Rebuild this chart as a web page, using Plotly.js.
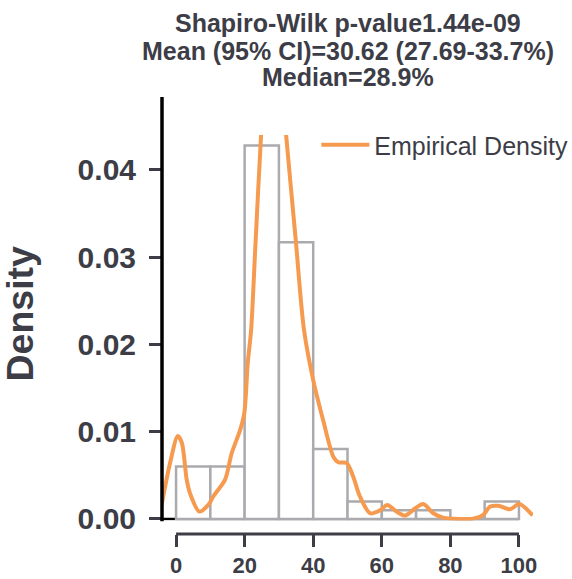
<!DOCTYPE html>
<html>
<head>
<meta charset="utf-8">
<script src="https://cdn.plot.ly/plotly-3.0.1.min.js"></script>
<style>html,body{margin:0;padding:0;background:#fff;}#chart{width:572px;height:579px;}</style>
</head>
<body>
<div id="chart"></div>
<script>
// Histogram (density) bins
const binCenters = [5, 15, 25, 35, 45, 55, 65, 75, 85, 95];
const binDensity = [0.0060, 0.0060, 0.0428, 0.0317, 0.0080, 0.0020, 0.0010, 0.0010, 0.0, 0.0020];
const binWidth = 10;

// Empirical density curve (KDE)
const kdeX = [-4.2, -1.75, 0.5, 1.7, 3.1, 4.1, 6.8, 9.4, 10.9, 14.3, 16.2, 18.7, 19.9, 20.9, 21.9, 23.1, 24.8, 26.3, 28.2, 30.2, 32.1, 34.9, 37.3, 40.0, 42.9, 45.9, 47.3, 49.8, 51.7, 53.6, 56.6, 59.5, 61.6, 64.3, 66.8, 69.7, 72.1, 75.0, 77.9, 82.8, 86.7, 89.6, 91.5, 94.0, 97.4, 100.1, 104.0];
const kdeY = [0.0016, 0.0064, 0.0095, 0.0087, 0.0045, 0.0029, 0.00084, 0.0016, 0.0026, 0.0045, 0.0075, 0.0102, 0.0121, 0.0178, 0.0217, 0.0310, 0.0440, 0.0530, 0.0580, 0.0530, 0.0440, 0.0320, 0.0217, 0.0159, 0.0113, 0.0071, 0.0065, 0.0064, 0.0048, 0.0026, 0.00065, 0.0010, 0.0016, 0.00084, 0.00038, 0.0012, 0.0017, 0.00065, 0.00015, 0.0, 0.00003, 0.00046, 0.0014, 0.0015, 0.0011, 0.0017, 0.0004];

const titleLines = ["Shapiro-Wilk p-value1.44e-09", "Mean (95% CI)=30.62 (27.69-33.7%)", "Median=28.9%"];
const yTitle = 'Density';
const xTicks = [0, 20, 40, 60, 80, 100];
const yTicks = [0, 0.01, 0.02, 0.03, 0.04];

const textColor = '#3c3d46';
const FONT = 'Liberation Sans, Arial, sans-serif';

const traces = [
  {
    type: 'bar', x: binCenters, y: binDensity, width: binWidth,
    marker: {color: '#ffffff', line: {color: '#aaaaaf', width: 2.5}},
    showlegend: false, hoverinfo: 'skip'
  },
  {
    type: 'scatter', mode: 'lines', x: kdeX, y: kdeY,
    name: 'Empirical Density',
    line: {color: '#f59a4f', width: 4, shape: 'spline', smoothing: 0.8}
  }
];

// paper spans px 135 (top) .. 534 (bottom), x px 162 .. 533
const pyToPaper = py => (534 - py) / 399;
const pxToPaper = px => (px - 162) / 371;
const yDomBottom = pyToPaper(520.4);

const titleY = [23, 51, 77];
const annotations = titleLines.map((t, i) => ({
  text: t, showarrow: false, xref: 'paper', yref: 'paper',
  x: 0.5, y: pyToPaper(titleY[i]), xanchor: 'center', yanchor: 'middle',
  font: {family: FONT, size: 25, weight: 'bold', color: textColor}
}));
annotations.push({
  text: yTitle, showarrow: false, xref: 'paper', yref: 'paper', textangle: -90,
  x: pxToPaper(19), y: pyToPaper(313.5), xanchor: 'center', yanchor: 'middle',
  font: {family: FONT, size: 37.5, weight: 'bold', color: textColor}
});

const layout = {
  width: 572, height: 579,
  margin: {l: 162, r: 39, t: 135, b: 45, autoexpand: false},
  paper_bgcolor: '#ffffff', plot_bgcolor: 'rgba(0,0,0,0)',
  font: {family: FONT, color: textColor},
  xaxis: {
    range: [-4.1, 104.1], anchor: 'free', position: 0,
    showgrid: false, zeroline: false, showline: false,
    ticks: 'outside', ticklen: 12, tickwidth: 3, tickcolor: textColor,
    tickvals: xTicks, ticktext: xTicks.map(String),
    tickfont: {family: FONT, size: 22, weight: 'bold', color: textColor}
  },
  yaxis: {
    range: [-0.00017, 0.0440], domain: [yDomBottom, 1],
    showgrid: false, zeroline: false, showline: false,
    ticks: 'outside', ticklen: 12, tickwidth: 3, tickcolor: textColor,
    ticklabelstandoff: 7,
    tickvals: yTicks, ticktext: yTicks.map(v => v.toFixed(2)),
    tickfont: {family: FONT, size: 30, weight: 'bold', color: textColor}
  },
  legend: {
    x: 0.416, y: pyToPaper(145), xanchor: 'left', yanchor: 'middle',
    bgcolor: 'rgba(0,0,0,0)', borderwidth: 0,
    font: {family: FONT, size: 25, color: textColor},
    itemwidth: 48
  },
  showlegend: true,
  annotations: annotations,
  shapes: [
    // zero line (below bars)
    {type: 'line', layer: 'below', xref: 'x', yref: 'y', x0: -4.1, x1: 100, y0: 0, y1: 0, line: {color: '#000000', width: 2.5}},
    // y spine
    {type: 'line', layer: 'above', xref: 'paper', yref: 'paper', x0: 0, x1: 0, y0: yDomBottom - 0.002, y1: pyToPaper(97), line: {color: '#000000', width: 3.5}},
    // x spine (offset)
    {type: 'line', layer: 'above', xref: 'x', yref: 'paper', x0: 0, x1: 100, y0: 0, y1: 0, line: {color: textColor, width: 3}}
  ]
};

Plotly.newPlot('chart', traces, layout, {displayModeBar: false, staticPlot: true});
</script>
</body>
</html>
